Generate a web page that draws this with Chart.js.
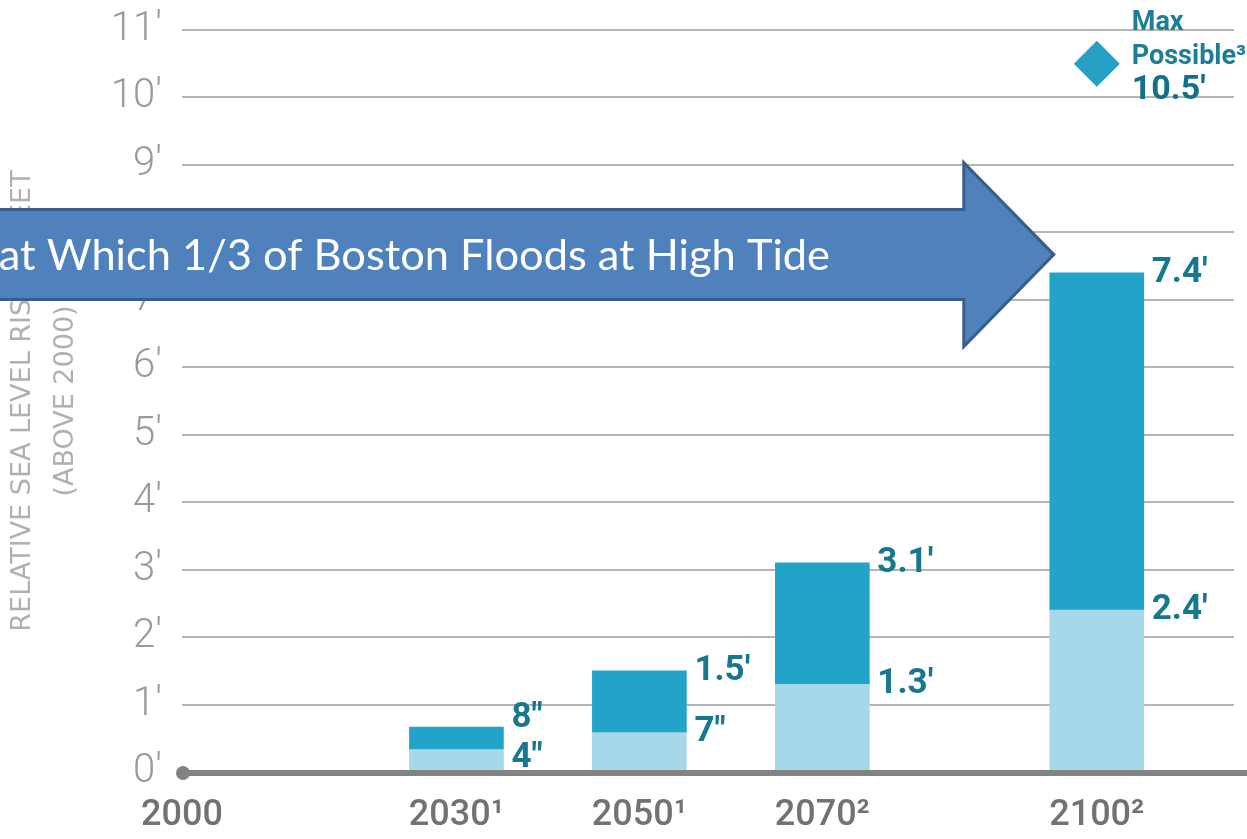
<!DOCTYPE html>
<html><head><meta charset="utf-8">
<script src="https://cdn.jsdelivr.net/npm/chart.js@4"></script>
<style>html,body{margin:0;padding:0;background:#fff;overflow:hidden}</style>
</head><body>
<canvas id="c" width="1247" height="839"></canvas>
<script>
// ---- data ----
const years = [2030, 2050, 2070, 2100];
const lowRise = [4/12, 7/12, 1.3, 2.4];
const highRise = [8/12, 1.5, 3.1, 7.4];
const lowLabels = ['4"', '7"', "1.3'", "2.4'"];
const highLabels = ['8"', "1.5'", "3.1'", "7.4'"];
const maxPossibleYear = 2100;
const maxPossible = 10.5;
const maxLabelLines = ['Max', 'Possible³', "10.5'"];
const xTickValues = [2000, 2030, 2050, 2070, 2100];
const xTickLabels = ['2000', '2030¹', '2050¹', '2070²', '2100²'];
const yTickValues = [0, 1, 2, 3, 4, 5, 6, 7, 8, 9, 10, 11];
const yTickLabels = ["0'", "1'", "2'", "3'", "4'", "5'", "6'", "7'", "8'", "9'", "10'", "11'"];
const yTitle = ['RELATIVE SEA LEVEL RISE IN FEET', '(ABOVE 2000)'];
const floodLevel = 7.67;       // feet, arrow centre line
const arrowTipYear = 2095.3;
const arrowText = 'at Which 1/3 of Boston Floods at High Tide';

const FONT = "Roboto, 'Liberation Sans', sans-serif";
const TEAL_TEXT = '#16788e';

const labelPlugin = {
  id: 'valueLabels',
  afterDatasetsDraw(chart) {
    const ctx = chart.ctx;
    const lowMeta = chart.getDatasetMeta(0);
    const highMeta = chart.getDatasetMeta(1);
    ctx.save();
    ctx.fillStyle = TEAL_TEXT;
    ctx.font = 'bold 35px ' + FONT;
    ctx.textAlign = 'left';
    ctx.textBaseline = 'middle';
    years.forEach((yr, i) => {
      const lo = lowMeta.data[i], hi = highMeta.data[i];
      let yLo = lo.y, yHi = hi.y;
      const minGap = 40;
      if (yLo - yHi < minGap) {
        const mid = (yLo + yHi) / 2;
        yHi = mid - minGap / 2; yLo = mid + minGap / 2;
      }
      const x = hi.x + hi.width / 2 + 8;
      ctx.fillText(highLabels[i], x, yHi);
      ctx.fillText(lowLabels[i], x, yLo);
    });
    // max possible label
    const dm = chart.getDatasetMeta(2).data[0];
    const lx = dm.x + 35;
    ctx.fillStyle = '#1b7f98';
    ctx.font = 'bold 27px ' + FONT;
    ctx.fillText(maxLabelLines[0], lx, dm.y - 40);
    ctx.fillText(maxLabelLines[1], lx, dm.y - 6);
    ctx.fillStyle = '#14708a';
    ctx.font = 'bold 34px ' + FONT;
    ctx.fillText(maxLabelLines[2], lx, dm.y + 27);
    // zero axis line
    const xs = chart.scales.x, ys = chart.scales.y;
    const y0 = ys.getPixelForValue(0) + 1;
    const x0 = xs.getPixelForValue(2000);
    ctx.strokeStyle = '#828282';
    ctx.lineWidth = 6;
    ctx.beginPath(); ctx.moveTo(x0, y0); ctx.lineTo(chart.width, y0); ctx.stroke();
    ctx.fillStyle = '#828282';
    ctx.beginPath(); ctx.arc(x0 + 1, y0, 7, 0, Math.PI * 2); ctx.fill();
    ctx.restore();
  },
  afterDraw(chart) {
    const ctx = chart.ctx;
    const xs = chart.scales.x, ys = chart.scales.y;
    const cy = ys.getPixelForValue(floodLevel);
    const tip = xs.getPixelForValue(arrowTipYear);
    const headLen = 90, bodyHalf = 45, headHalf = 92;
    const base = tip - headLen;
    ctx.save();
    ctx.beginPath();
    ctx.moveTo(-10, cy - bodyHalf);
    ctx.lineTo(base, cy - bodyHalf);
    ctx.lineTo(base, cy - headHalf);
    ctx.lineTo(tip, cy);
    ctx.lineTo(base, cy + headHalf);
    ctx.lineTo(base, cy + bodyHalf);
    ctx.lineTo(-10, cy + bodyHalf);
    ctx.closePath();
    ctx.fillStyle = '#4f81bd';
    ctx.fill();
    ctx.strokeStyle = '#385d8a';
    ctx.lineWidth = 3;
    ctx.stroke();
    ctx.fillStyle = '#ffffff';
    let fs = 40;
    ctx.font = fs + "px Lato, 'Open Sans', sans-serif";
    const w = ctx.measureText(arrowText).width;
    fs = fs * 832 / w;
    ctx.font = fs.toFixed(1) + "px Lato, 'Open Sans', sans-serif";
    ctx.textAlign = 'right';
    ctx.textBaseline = 'alphabetic';
    ctx.fillText(arrowText, 830, cy + 15);
    ctx.restore();
  }
};

new Chart(document.getElementById('c'), {
  type: 'bar',
  data: {
    datasets: [
      {
        label: 'Low',
        data: years.map((yr, i) => ({ x: yr, y: lowRise[i] })),
        backgroundColor: '#a6d8ea',
        grouped: false,
        barThickness: 94,
        borderWidth: 0
      },
      {
        label: 'High',
        data: years.map((yr, i) => ({ x: yr, y: [lowRise[i], highRise[i]] })),
        backgroundColor: '#22a3c8',
        grouped: false,
        barThickness: 94,
        borderWidth: 0
      },
      {
        type: 'scatter',
        label: 'Max',
        data: [{ x: maxPossibleYear, y: maxPossible }],
        pointStyle: 'rectRot',
        pointRadius: 23,
        backgroundColor: '#27a0c6',
        borderWidth: 0,
        clip: false
      }
    ]
  },
  options: {
    responsive: false,
    animation: false,
    devicePixelRatio: 1,
    layout: { autoPadding: false, padding: { top: 30, right: 13, left: 0, bottom: 0 } },
    plugins: { legend: { display: false }, tooltip: { enabled: false } },
    scales: {
      x: {
        type: 'linear',
        min: 2000,
        max: 2115,
        offset: false,
        grid: { display: false, drawTicks: false },
        border: { display: false },
        afterBuildTicks: (s) => { s.ticks = xTickValues.map(v => ({ value: v })); },
        afterFit: (s) => { s.height = 67; s.paddingLeft = 0; s.paddingRight = 0; },
        ticks: {
          autoSkip: false,
          maxRotation: 0,
          padding: 22,
          color: '#727272',
          font: { family: FONT, size: 36, weight: '500' },
          callback: (v) => xTickLabels[xTickValues.indexOf(v)]
        }
      },
      y: {
        min: 0,
        max: 11,
        grid: { color: '#b5b5b5', lineWidth: 2, drawTicks: false },
        border: { display: false },
        afterBuildTicks: (s) => { s.ticks = yTickValues.map(v => ({ value: v })); },
        afterFit: (s) => { s.width = 182; s.paddingTop = 0; s.paddingBottom = 0; },
        ticks: {
          padding: 20,
          color: '#9a9a9a',
          font: { family: FONT, size: 40, weight: '300' },
          callback: (v) => yTickLabels[yTickValues.indexOf(v)]
        },
        title: {
          display: true,
          text: yTitle,
          color: '#b0b0b0',
          font: { family: "'DejaVu Sans', sans-serif", size: 27, lineHeight: 1.6 },
          padding: { top: 1, bottom: 0 }
        }
      }
    }
  },
  plugins: [labelPlugin]
});
</script>
</body></html>
